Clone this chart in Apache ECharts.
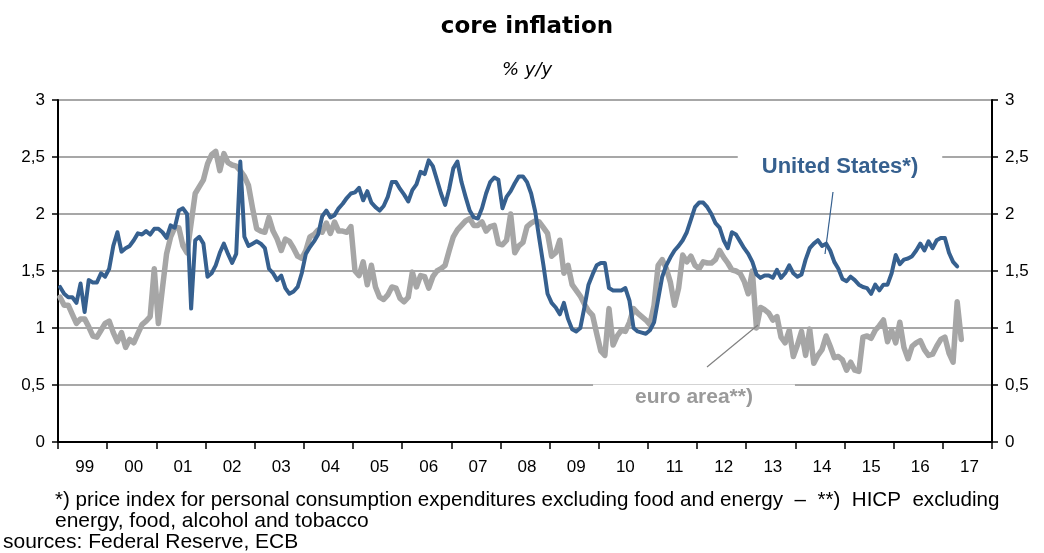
<!DOCTYPE html>
<html>
<head>
<meta charset="utf-8">
<script src="https://cdn.jsdelivr.net/npm/echarts@6/dist/echarts.min.js"></script>
<style>
  html, body { margin: 0; padding: 0; background: #fff; }
  #chart { width: 1044px; height: 553px; }
</style>
</head>
<body>
<div id="chart"></div>
<script>
// x axis: one category per month, Jan 1999 .. Dec 2017
var years = [1999, 2000, 2001, 2002, 2003, 2004, 2005, 2006, 2007, 2008,
             2009, 2010, 2011, 2012, 2013, 2014, 2015, 2016, 2017]
var months = []
years.forEach(function (y) {
  for (var m = 1; m <= 12; m++) months.push(y + '-' + (m < 10 ? '0' + m : m))
})

var yTicks = [0, 0.5, 1, 1.5, 2, 2.5, 3]

// US core PCE, % y/y, monthly from Jan 1999
var usCore = [
  1.36, 1.30, 1.27, 1.27, 1.22, 1.39, 1.14, 1.42, 1.40, 1.40, 1.48, 1.45,
  1.52, 1.72, 1.84, 1.67, 1.70, 1.72, 1.77, 1.83, 1.82, 1.85, 1.82, 1.87,
  1.87, 1.84, 1.79, 1.90, 1.88, 2.03, 2.05, 2.00, 1.17, 1.77, 1.80, 1.74,
  1.45, 1.48, 1.55, 1.66, 1.74, 1.65, 1.57, 1.65, 2.46, 1.80, 1.72, 1.74,
  1.76, 1.74, 1.70, 1.52, 1.48, 1.42, 1.46, 1.35, 1.30, 1.32, 1.36, 1.48,
  1.65, 1.71, 1.76, 1.82, 1.98, 2.03, 1.97, 1.99, 2.05, 2.09, 2.14, 2.18,
  2.19, 2.23, 2.12, 2.20, 2.10, 2.06, 2.03, 2.07, 2.15, 2.28, 2.28, 2.22,
  2.17, 2.11, 2.21, 2.26, 2.37, 2.35, 2.47, 2.42, 2.30, 2.18, 2.08, 2.22,
  2.40, 2.46, 2.28, 2.15, 2.03, 1.97, 1.96, 2.05, 2.18, 2.28, 2.32, 2.30,
  2.05, 2.15, 2.20, 2.27, 2.33, 2.33, 2.28, 2.18, 2.02, 1.78, 1.55, 1.30,
  1.22, 1.18, 1.12, 1.22, 1.08, 0.99, 0.97, 1.00, 1.18, 1.38, 1.47, 1.55,
  1.57, 1.57, 1.35, 1.33, 1.33, 1.33, 1.35, 1.24, 1.00, 0.97, 0.96, 0.95,
  0.98, 1.05, 1.25, 1.45, 1.55, 1.62, 1.68, 1.72, 1.77, 1.84, 1.95, 2.06,
  2.10, 2.10, 2.06, 2.00, 1.92, 1.88, 1.77, 1.70, 1.84, 1.82, 1.76, 1.70,
  1.65, 1.58, 1.47, 1.44, 1.46, 1.46, 1.44, 1.51, 1.44, 1.48, 1.55, 1.48,
  1.45, 1.47, 1.60, 1.70, 1.74, 1.77, 1.72, 1.74, 1.68, 1.58, 1.52, 1.43,
  1.41, 1.45, 1.42, 1.38, 1.36, 1.35, 1.30, 1.38, 1.33, 1.38, 1.38, 1.48,
  1.64, 1.56, 1.60, 1.61, 1.63, 1.68, 1.74, 1.68, 1.76, 1.70, 1.77, 1.79,
  1.79, 1.66, 1.58, 1.54
]

// euro area core HICP, % y/y, monthly from Jan 1999
var euroCore = [
  1.27, 1.20, 1.20, 1.12, 1.04, 1.08, 1.08, 1.01, 0.93, 0.92, 0.98, 1.04,
  1.06, 0.96, 0.88, 0.96, 0.83, 0.90, 0.87, 0.95, 1.03, 1.06, 1.10, 1.52,
  1.04, 1.35, 1.65, 1.80, 1.88, 1.88, 1.72, 1.66, 1.92, 2.18, 2.24, 2.30,
  2.44, 2.52, 2.55, 2.38, 2.53, 2.45, 2.43, 2.42, 2.38, 2.33, 2.25, 2.05,
  1.87, 1.85, 1.84, 1.97, 1.85, 1.78, 1.68, 1.78, 1.76, 1.70, 1.63, 1.61,
  1.68, 1.80, 1.82, 1.86, 1.84, 1.92, 1.83, 1.93, 1.85, 1.85, 1.84, 1.89,
  1.50, 1.46, 1.58, 1.38, 1.55, 1.36, 1.27, 1.25, 1.29, 1.36, 1.35, 1.26,
  1.23, 1.27, 1.49, 1.36, 1.46, 1.45, 1.35, 1.45, 1.50, 1.52, 1.55, 1.68,
  1.80, 1.86, 1.90, 1.94, 1.96, 1.90, 1.90, 1.93, 1.85, 1.89, 1.90, 1.74,
  1.73, 1.77, 2.00, 1.66, 1.72, 1.75, 1.89, 1.92, 1.94, 1.93, 1.88, 1.83,
  1.63, 1.66, 1.77, 1.48, 1.55, 1.38, 1.33, 1.28, 1.21, 1.15, 1.11, 0.95,
  0.80, 0.76, 1.17, 0.85, 0.93, 0.98, 0.97, 1.05, 1.17, 1.13, 1.10, 1.07,
  1.03, 1.20, 1.55, 1.60, 1.52, 1.40, 1.20, 1.35, 1.64, 1.58, 1.63, 1.55,
  1.52, 1.58, 1.57, 1.57, 1.60, 1.68, 1.62, 1.57, 1.51, 1.50, 1.48, 1.41,
  1.30, 1.50, 1.00, 1.18, 1.16, 1.13, 1.07, 1.10, 0.92, 0.87, 0.98, 0.75,
  0.85, 0.97, 0.76, 0.99, 0.69, 0.76, 0.81, 0.93, 0.84, 0.74, 0.75, 0.72,
  0.63, 0.70, 0.63, 0.62, 0.92, 0.93, 0.91, 0.98, 1.02, 1.07, 0.88, 0.98,
  0.87, 1.05, 0.83, 0.73, 0.84, 0.87, 0.89, 0.81, 0.76, 0.77, 0.84, 0.90,
  0.92, 0.78, 0.70, 1.23, 0.90
]

var blue = '#36608f'
var grey = '#a6a6a6'
var font = 'Liberation Sans, Arial, sans-serif'
var titleFont = 'DejaVu Sans, Verdana, sans-serif'

var chart = echarts.init(document.getElementById('chart'))

function yAxisDef(pos) {
  return {
    type: 'value', position: pos,
    min: yTicks[0], max: yTicks[yTicks.length - 1], interval: 0.5,
    axisLine: { show: true, lineStyle: { color: '#000', width: 2 } },
    axisTick: { show: true, length: 6, lineStyle: { color: '#000', width: 1.5 } },
    axisLabel: {
      margin: 13, fontSize: 17, color: '#000', fontFamily: font,
      formatter: function (v) { return String(v).replace('.', ',') }
    },
    splitLine: { show: pos === 'left', lineStyle: { color: '#8a8a8a', width: 1.6 } }
  }
}

chart.setOption({
  animation: false,
  grid: { left: 58, right: 52, top: 100, bottom: 111 },
  xAxis: [{
    type: 'category', data: months, boundaryGap: true,
    axisLine: { lineStyle: { color: '#000', width: 2 } },
    // one tick at every year boundary
    axisTick: { show: true, interval: 11, length: 7, lineStyle: { color: '#000', width: 1.5 } },
    axisLabel: {
      interval: function (i) { return i % 12 === 6 },
      formatter: function (v) { return v.slice(2, 4) },
      margin: 17, fontSize: 17, color: '#000', fontFamily: font
    },
    splitLine: { show: false }
  }, {
    type: 'category', data: months, position: 'top',
    axisLine: { lineStyle: { color: '#000', width: 2 } },
    axisTick: { show: false }, axisLabel: { show: false }
  }],
  yAxis: [yAxisDef('left'), yAxisDef('right')],
  series: [{
    name: 'euro area', type: 'line', data: euroCore,
    showSymbol: false, symbol: 'none',
    lineStyle: { color: grey, width: 5.5, cap: 'round', join: 'round' }
  }, {
    name: 'United States', type: 'line', data: usCore,
    showSymbol: false, symbol: 'none',
    lineStyle: { color: blue, width: 4, cap: 'round', join: 'round' }
  }],
  graphic: [
    { type: 'text', x: 527, y: 27, z: 100, style: {
      text: 'core inflation', font: 'bold 23px ' + titleFont, fill: '#000',
      textAlign: 'center', textVerticalAlign: 'middle' } },
    { type: 'text', x: 527, y: 70, z: 100, style: {
      text: '% y/y', font: 'oblique 18px ' + titleFont, fill: '#000',
      textAlign: 'center', textVerticalAlign: 'middle' } },
    // annotation labels (white box breaks the grid line as in the original)
    { type: 'text', x: 840, y: 167, z: 100, style: {
      text: 'United States*)', font: 'bold 22px ' + font, fill: blue,
      textAlign: 'center', textVerticalAlign: 'middle',
      backgroundColor: '#fff', padding: [2, 24, 2, 24] } },
    { type: 'line', z: 100, shape: { x1: 833, y1: 192, x2: 825, y2: 254 },
      style: { stroke: blue, lineWidth: 1.2 } },
    { type: 'text', x: 694, y: 397, z: 100, style: {
      text: 'euro area**)', font: 'bold 21px ' + font, fill: '#9a9a9a',
      textAlign: 'center', textVerticalAlign: 'middle',
      backgroundColor: '#fff', padding: [2, 42, 2, 42] } },
    { type: 'line', z: 100, shape: { x1: 707, y1: 367, x2: 758, y2: 325 },
      style: { stroke: '#808080', lineWidth: 1.2 } },
    // footnotes
    { type: 'text', x: 55, y: 500, z: 100, style: {
      text: '*) price index for personal consumption expenditures excluding food and energy  \u2013  **)  HICP  excluding',
      font: '20.6px ' + font, fill: '#000', textVerticalAlign: 'middle' } },
    { type: 'text', x: 55, y: 521, z: 100, style: {
      text: 'energy, food, alcohol and tobacco',
      font: '21px ' + font, fill: '#000', textVerticalAlign: 'middle' } },
    { type: 'text', x: 3, y: 542, z: 100, style: {
      text: 'sources: Federal Reserve, ECB',
      font: '21px ' + font, fill: '#000', textVerticalAlign: 'middle' } }
  ]
})
</script>
</body>
</html>
